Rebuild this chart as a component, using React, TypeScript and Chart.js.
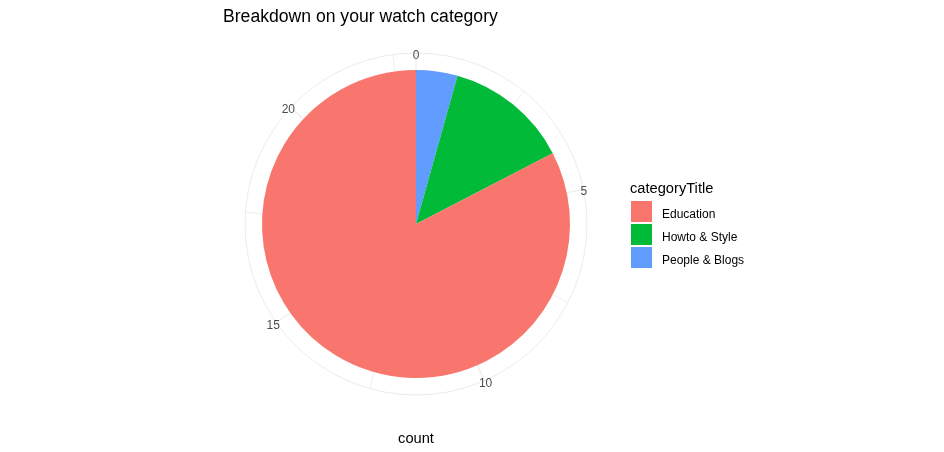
import React, { useEffect, useRef } from "react";
import { Chart, registerables } from "chart.js";

Chart.register(...registerables);

// ---- data ----
const categories = ["People & Blogs", "Howto & Style", "Education"];
const counts = [1, 3, 19];
const colors = ["#619CFF", "#00BA38", "#F8766D"];
const legendOrder = ["Education", "Howto & Style", "People & Blogs"];
const majorTicks = [0, 5, 10, 15, 20];
const minorTicks = [2.5, 7.5, 12.5, 17.5, 22.5];
const titleText = "Breakdown on your watch category";
const legendTitle = "categoryTitle";
const axisTitle = "count";

const FONT = "'Liberation Sans', Arial, sans-serif";

const polarPlugin = {
  id: "polarDecor",
  beforeDatasetsDraw(chart: any) {
    const arc = chart.getDatasetMeta(0).data[0];
    if (!arc) return;
    const { x: cx, y: cy, outerRadius } = arc.getProps(["x", "y", "outerRadius"], true);
    const R = (outerRadius * 171) / 154;
    const total = counts.reduce((a, b) => a + b, 0);
    const ctx = chart.ctx;
    ctx.save();
    ctx.strokeStyle = "#EBEBEB";
    ctx.lineWidth = 1;
    ctx.beginPath();
    ctx.arc(cx, cy, R, 0, Math.PI * 2);
    ctx.stroke();
    const all = [...majorTicks.map((v) => [v, 1.1]), ...minorTicks.map((v) => [v, 0.8])];
    for (const [v, lw] of all) {
      const t = (v / total) * Math.PI * 2;
      ctx.lineWidth = lw;
      ctx.beginPath();
      ctx.moveTo(cx, cy);
      ctx.lineTo(cx + R * Math.sin(t), cy - R * Math.cos(t));
      ctx.stroke();
    }
    ctx.restore();
  },
  afterDraw(chart: any) {
    const arc = chart.getDatasetMeta(0).data[0];
    if (!arc) return;
    const { x: cx, y: cy, outerRadius } = arc.getProps(["x", "y", "outerRadius"], true);
    const R = (outerRadius * 171) / 154;
    const total = counts.reduce((a, b) => a + b, 0);
    const ctx = chart.ctx;
    ctx.save();
    // tick labels
    ctx.font = `12px ${FONT}`;
    ctx.fillStyle = "#4D4D4D";
    ctx.textAlign = "left";
    ctx.textBaseline = "alphabetic";
    for (const v of majorTicks) {
      const t = (v / total) * Math.PI * 2;
      const s = Math.sin(t);
      const c = Math.cos(t);
      const Rl = R - 3;
      const ax = cx + Rl * s;
      const ay = cy - Rl * c;
      const txt = String(v);
      const w = ctx.measureText(txt).width;
      const hj = 0.5 - s / 2;
      const vj = 0.5 - c / 2;
      ctx.fillText(txt, ax - hj * w, ay + 3 + 6 * vj);
    }
    // title
    ctx.fillStyle = "#000000";
    ctx.font = `17.6px ${FONT}`;
    ctx.fillText(titleText, 223, 22);
    // axis title
    ctx.font = `14.67px ${FONT}`;
    ctx.textAlign = "center";
    ctx.fillText(axisTitle, cx, 443);
    // legend
    ctx.textAlign = "left";
    ctx.fillText(legendTitle, 630, 193);
    ctx.font = `12px ${FONT}`;
    legendOrder.forEach((name, i) => {
      const idx = categories.indexOf(name);
      const top = 201 + i * 23;
      ctx.fillStyle = colors[idx];
      ctx.fillRect(631, top, 21, 21);
      ctx.fillStyle = "#000000";
      ctx.fillText(name, 662, top + 17);
    });
    ctx.restore();
  },
};

export default function App() {
  const ref = useRef<HTMLCanvasElement | null>(null);
  useEffect(() => {
    document.body.style.margin = "0";
    const canvas = ref.current!;
    const chart = new Chart(canvas, {
      type: "pie",
      data: {
        labels: categories,
        datasets: [
          {
            data: counts,
            backgroundColor: colors,
            borderWidth: 0,
          },
        ],
      },
      options: {
        responsive: false,
        animation: false,
        devicePixelRatio: 1,
        layout: { padding: { left: 262, right: 374, top: 70, bottom: 74 } },
        plugins: {
          legend: { display: false },
          title: { display: false },
          tooltip: { enabled: false },
        },
      },
      plugins: [polarPlugin],
    });
    return () => chart.destroy();
  }, []);
  return (
    <div style={{ width: 944, height: 452, background: "#ffffff" }}>
      <canvas ref={ref} width={944} height={452} style={{ display: "block" }} />
    </div>
  );
}
